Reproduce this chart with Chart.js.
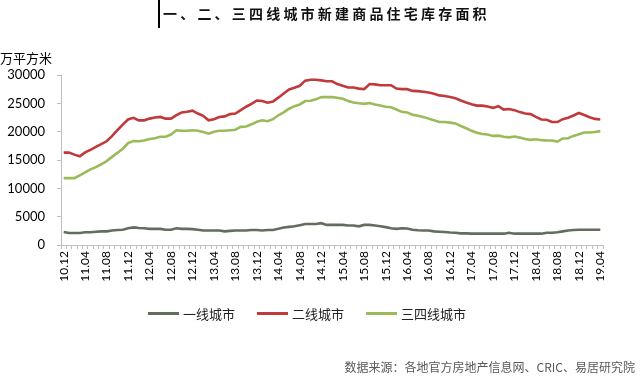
<!DOCTYPE html>
<html>
<head>
<meta charset="utf-8">
<script src="https://cdn.jsdelivr.net/npm/chart.js@4"></script>
<style>
  html, body { margin: 0; padding: 0; background: #fff; }
  #wrap { position: relative; width: 640px; height: 381px; overflow: hidden; font-family: "Noto Sans CJK SC", sans-serif; }
  #c { position: absolute; left: 0; top: 0; }
  .abs { position: absolute; white-space: nowrap; }
  #titlebar { left: 158px; top: 0; width: 1.5px; height: 28px; background: #000; }
  #title { left: 163px; top: 3px; font-size: 14px; letter-spacing: 3.2px; color: #111; font-weight: bold; }
  #unit { left: 0; top: 48px; font-size: 13px; color: #000; }
  #legend { top: 304px; left: 148px; font-size: 13px; color: #222; display: flex; align-items: center; }
  .li { display: flex; align-items: center; margin-right: 22px; }
  .sw { width: 31px; height: 3px; margin-right: 4px; }
  #source { right: 5px; top: 358px; font-size: 12px; color: #595959; }
</style>
</head>
<body>
<div id="wrap">
  <canvas id="c" width="640" height="381"></canvas>
  <div class="abs" id="titlebar"></div>
  <div class="abs" id="title">一、二、三四线城市新建商品住宅库存面积</div>
  <div class="abs" id="unit">万平方米</div>
  <div class="abs" id="legend"></div>
  <div class="abs" id="source">数据来源：各地官方房地产信息网、CRIC、易居研究院</div>
</div>
<script>
const months = [
  "10.12",
  "11.01","11.02","11.03","11.04","11.05","11.06","11.07","11.08","11.09","11.10","11.11","11.12",
  "12.01","12.02","12.03","12.04","12.05","12.06","12.07","12.08","12.09","12.10","12.11","12.12",
  "13.01","13.02","13.03","13.04","13.05","13.06","13.07","13.08","13.09","13.10","13.11","13.12",
  "14.01","14.02","14.03","14.04","14.05","14.06","14.07","14.08","14.09","14.10","14.11","14.12",
  "15.01","15.02","15.03","15.04","15.05","15.06","15.07","15.08","15.09","15.10","15.11","15.12",
  "16.01","16.02","16.03","16.04","16.05","16.06","16.07","16.08","16.09","16.10","16.11","16.12",
  "17.01","17.02","17.03","17.04","17.05","17.06","17.07","17.08","17.09","17.10","17.11","17.12",
  "18.01","18.02","18.03","18.04","18.05","18.06","18.07","18.08","18.09","18.10","18.11","18.12",
  "19.01","19.02","19.03","19.04"
];

const seriesNames = ["一线城市", "二线城市", "三四线城市"];

const tier1 = [
  2300,2130,2130,2130,2250,2250,2350,2400,2400,2550,2650,2700,2950,3100,3000,2950,2850,2850,2850,2700,
  2700,2950,2850,2850,2800,2700,2550,2550,2550,2550,2400,2500,2550,2550,2550,2650,2650,2550,2650,2650,
  2850,3100,3200,3300,3500,3700,3700,3700,3850,3550,3550,3550,3550,3450,3450,3300,3550,3550,3450,3300,
  3150,2950,2850,2950,2900,2700,2600,2550,2550,2400,2350,2300,2200,2150,2050,2050,2000,2000,2000,2000,
  2000,2000,2000,2150,2000,2000,2000,2000,2000,2000,2150,2150,2250,2400,2550,2650,2700,2700,2700,2700,
  2700
];

const tier2 = [
  16300,16300,15950,15650,16350,16800,17300,17800,18300,19200,20250,21250,22150,22450,22000,22000,22300,22500,22600,22300,
  22300,22900,23400,23500,23700,23200,22800,22000,22200,22600,22700,23100,23200,23800,24400,24900,25500,25400,25100,25300,
  26000,26750,27450,27750,28100,29000,29150,29150,29050,28900,28900,28400,28100,27800,27800,27600,27500,28400,28350,28200,
  28200,28200,27600,27500,27500,27200,27150,27050,26900,26700,26400,26300,26100,25900,25500,25150,24850,24600,24600,24450,
  24200,24500,23900,24000,23800,23450,23200,23100,22600,22150,22100,21700,21700,22200,22450,22850,23300,22950,22550,22250,
  22150
];

const tier34 = [
  11800,11800,11800,12300,12800,13350,13750,14250,14800,15550,16250,17000,18000,18350,18300,18450,18700,18850,19100,19100,
  19500,20250,20150,20150,20250,20150,19950,19650,20000,20150,20150,20250,20350,20850,20900,21300,21750,22000,21850,22200,
  22900,23400,24050,24500,24800,25400,25450,25700,26100,26100,26100,26000,25800,25400,25150,25000,24900,25050,24800,24600,
  24400,24300,23900,23500,23400,23000,22800,22600,22300,22000,21700,21700,21600,21450,21000,20600,20150,19800,19600,19500,
  19250,19300,19100,19000,19150,18950,18700,18550,18650,18500,18450,18450,18250,18800,18850,19250,19550,19850,19850,19950,
  20100
];

const yTicks = [0, 5000, 10000, 15000, 20000, 25000, 30000];

const colors = ["#626D5C", "#C0393B", "#9BBB59"];

const legend = document.getElementById('legend');
seriesNames.forEach((n, i) => {
  const d = document.createElement('div');
  d.className = 'li';
  d.innerHTML = '<span class="sw" style="background:' + colors[i] + '"></span><span>' + n + '</span>';
  legend.appendChild(d);
});

const ctx = document.getElementById('c').getContext('2d');
new Chart(ctx, {
  type: 'line',
  data: {
    labels: months,
    datasets: [tier1, tier2, tier34].map((d, i) => ({
      label: seriesNames[i],
      data: d,
      borderColor: colors[i],
      backgroundColor: colors[i],
      borderWidth: 2.6,
      pointRadius: 0,
      tension: 0,
      fill: false
    }))
  },
  options: {
    responsive: false,
    animation: false,
    events: [],
    layout: { padding: { left: 0, right: 37, top: 75, bottom: 76 } },
    plugins: { legend: { display: false }, title: { display: false }, tooltip: { enabled: false } },
    scales: {
      x: {
        type: 'category',
        offset: true,
        afterFit: (s) => { s.height = 60; },
        grid: { display: true, offset: true, drawOnChartArea: false, drawTicks: true, tickLength: 4, color: '#BFBFBF', lineWidth: 1 },
        border: { display: true, color: '#BFBFBF', width: 1 },
        ticks: {
          autoSkip: false,
          minRotation: 90,
          maxRotation: 90,
          padding: 2,
          color: '#000',
          font: { family: 'Lato', size: 12 },
          callback: function(v, i) { return i % 4 === 0 ? months[i] : ''; }
        }
      },
      y: {
        min: 0,
        max: 30000,
        afterFit: (s) => { s.width = 61; },
        afterBuildTicks: (s) => { s.ticks = yTicks.map(v => ({ value: v })); },
        grid: { display: true, drawOnChartArea: false, drawTicks: true, tickLength: 4, color: '#BFBFBF' },
        border: { display: true, color: '#BFBFBF', width: 1 },
        ticks: {
          color: '#000',
          padding: 12,
          font: { family: 'Lato', size: 13 },
          callback: (v) => String(v)
        }
      }
    }
  }
});
</script>
</body>
</html>
